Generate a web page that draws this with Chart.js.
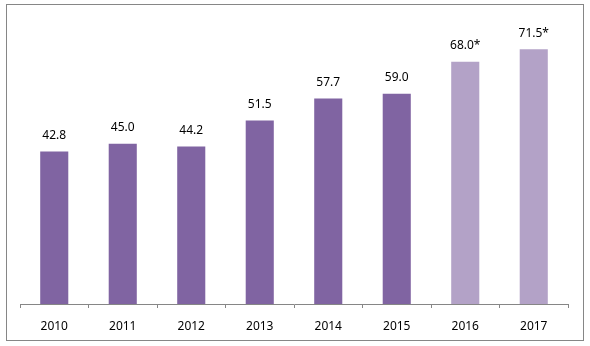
<!DOCTYPE html>
<html>
<head>
<meta charset="utf-8">
<script src="https://cdn.jsdelivr.net/npm/chart.js@4"></script>
<style>
  html, body { margin: 0; padding: 0; background: #fff; }
  #frame { position: absolute; left: 6px; top: 4px; width: 576px; height: 335px; border: 1px solid #868686; }
</style>
</head>
<body>
<div id="frame"><canvas id="chart" width="576" height="335"></canvas></div>
<script>
// 연도와 값
const years = ['2010', '2011', '2012', '2013', '2014', '2015', '2016', '2017'];
const values = [42.8, 45.0, 44.2, 51.5, 57.7, 59.0, 68.0, 71.5];
const estimated = [false, false, false, false, false, false, true, true]; // 추정치 (*)

const solidColor = '#8064A2';
const lightColor = '#B3A2C7';
const fontFamily = '"Noto Sans", sans-serif';

// 막대 위에 값 표시
const valueLabels = {
  id: 'valueLabels',
  afterDatasetsDraw(chart) {
    const ctx = chart.ctx;
    const meta = chart.getDatasetMeta(0);
    ctx.save();
    ctx.font = '12px ' + fontFamily;
    ctx.fillStyle = '#000';
    ctx.textAlign = 'center';
    ctx.textBaseline = 'middle';
    meta.data.forEach((bar, i) => {
      const text = values[i].toFixed(1) + (estimated[i] ? '*' : '');
      ctx.fillText(text, bar.x, bar.y - 16);
    });
    ctx.restore();
  }
};

new Chart(document.getElementById('chart'), {
  type: 'bar',
  data: {
    labels: years,
    datasets: [{
      data: values,
      backgroundColor: estimated.map(e => e ? lightColor : solidColor),
      categoryPercentage: 1,
      barPercentage: 0.41
    }]
  },
  options: {
    responsive: false,
    animation: false,
    layout: { padding: { left: 13, right: 15, top: 14, bottom: 0 } },
    plugins: { legend: { display: false }, tooltip: { enabled: false } },
    scales: {
      x: {
        afterFit: scale => { scale.height = 36; },
        grid: { drawOnChartArea: false, color: '#868686', tickLength: 4, offset: true },
        border: { display: true, color: '#868686' },
        ticks: { color: '#000', font: { family: fontFamily, size: 12 }, padding: 11 }
      },
      y: { display: false, min: 0, max: 80 }
    }
  },
  plugins: [valueLabels]
});
</script>
</body>
</html>
